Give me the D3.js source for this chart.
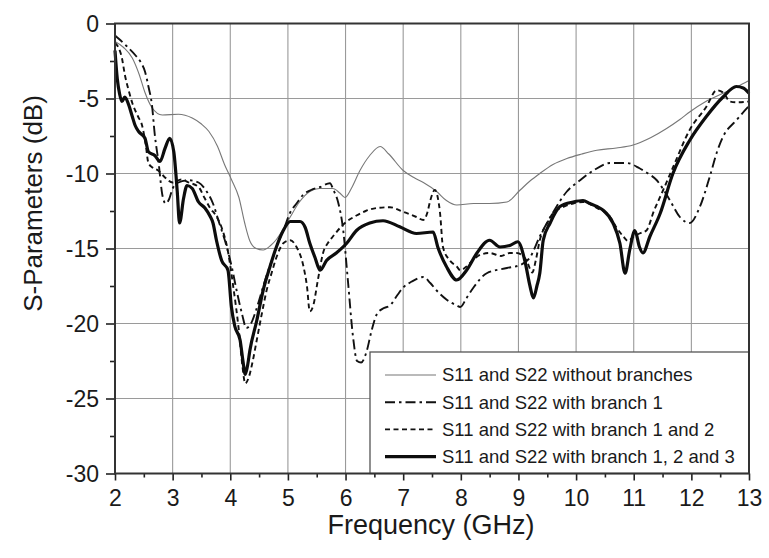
<!DOCTYPE html>
<html>
<head>
<meta charset="utf-8">
<script src="https://cdn.jsdelivr.net/npm/d3@7"></script>
<style>
  body { margin: 0; background: #fff; }
  text { font-family: "Liberation Sans", Arial, sans-serif; fill: #1a1a1a; }
</style>
</head>
<body>
<div id="chart"></div>
<script>
// Data: [frequency GHz, dB]
const xTicks = [2, 3, 4, 5, 6, 7, 8, 9, 10, 11, 12, 13];
const yTicks = [0, -5, -10, -15, -20, -25, -30];

const noBranch = [[2,-1.2],[2.15,-1.6],[2.3,-2.3],[2.42,-3.4],[2.52,-4.6],[2.64,-5.6],[2.82,-6.1],[3.1,-6.05],[3.34,-6.3],[3.5,-6.7],[3.63,-7.2],[3.78,-8.2],[3.9,-9.4],[4.02,-10.4],[4.15,-11.6],[4.25,-13.3],[4.34,-14.5],[4.45,-15],[4.57,-15.1],[4.7,-14.8],[4.8,-14.4],[4.92,-13.7],[5.04,-12.9],[5.2,-11.9],[5.38,-11.2],[5.55,-11.0],[5.78,-11.0],[5.9,-11.3],[5.99,-11.6],[6.1,-11.0],[6.25,-9.8],[6.42,-8.8],[6.6,-8.2],[6.75,-8.7],[7.0,-9.8],[7.2,-10.3],[7.35,-10.6],[7.58,-11.2],[7.75,-11.8],[7.93,-12.1],[8.22,-12.0],[8.5,-12.0],[8.8,-11.9],[9.03,-11.1],[9.2,-10.5],[9.37,-10.0],[9.6,-9.4],[9.84,-9.0],[10.1,-8.7],[10.36,-8.45],[10.7,-8.3],[10.99,-8.1],[11.3,-7.6],[11.57,-7.0],[11.8,-6.4],[11.97,-5.9],[12.25,-5.2],[12.55,-4.65],[12.8,-4.2],[13,-3.8]];

const branch1 = [[2,-0.8],[2.06,-1.0],[2.2,-1.5],[2.35,-2.1],[2.45,-2.6],[2.52,-3.2],[2.58,-4.2],[2.64,-5.4],[2.69,-7.4],[2.76,-9.4],[2.82,-11.4],[2.88,-12.0],[2.94,-11.7],[3.0,-11.0],[3.1,-10.6],[3.28,-10.45],[3.45,-10.6],[3.59,-11.2],[3.7,-12.0],[3.8,-13.2],[3.94,-14.9],[4.03,-16.3],[4.11,-17.8],[4.2,-19.3],[4.28,-20.3],[4.36,-20.0],[4.44,-19.2],[4.52,-18.2],[4.63,-16.8],[4.74,-15.6],[4.83,-14.6],[4.92,-13.8],[5.04,-12.6],[5.15,-12.0],[5.27,-11.4],[5.4,-11.1],[5.56,-10.9],[5.73,-10.65],[5.79,-11.1],[5.87,-11.9],[5.96,-13.8],[6.04,-17.1],[6.13,-20.9],[6.2,-22.5],[6.27,-22.6],[6.37,-21.8],[6.45,-20.5],[6.54,-19.4],[6.65,-19.0],[6.77,-18.8],[6.9,-18.1],[7.0,-17.6],[7.15,-17.2],[7.35,-16.9],[7.47,-17.3],[7.58,-17.8],[7.75,-18.4],[7.93,-18.8],[7.99,-18.9],[8.1,-18.3],[8.22,-17.6],[8.45,-16.65],[8.8,-16.3],[9.03,-16.1],[9.2,-15.6],[9.37,-14.2],[9.6,-12.6],[9.84,-11.2],[10.07,-10.45],[10.3,-9.8],[10.59,-9.3],[10.88,-9.3],[11.1,-9.65],[11.25,-10.0],[11.4,-10.45],[11.52,-11.1],[11.63,-11.8],[11.8,-12.9],[11.97,-13.3],[12.15,-12.2],[12.32,-10.2],[12.45,-8.5],[12.55,-7.55],[12.78,-6.45],[13,-5.5]];

const branch12 = [[2,-1.3],[2.06,-1.6],[2.12,-2.3],[2.17,-3.4],[2.24,-4.5],[2.3,-5.3],[2.4,-6.2],[2.47,-6.8],[2.53,-8.0],[2.58,-9.3],[2.65,-9.6],[2.75,-9.8],[2.85,-10.2],[3.0,-10.6],[3.15,-10.4],[3.28,-10.6],[3.45,-10.9],[3.55,-11.6],[3.65,-12.3],[3.75,-12.8],[3.85,-13.6],[3.95,-15.0],[4.05,-17.5],[4.15,-20.5],[4.21,-22.8],[4.26,-24.0],[4.32,-23.6],[4.39,-22.5],[4.46,-21.1],[4.55,-19.3],[4.63,-17.8],[4.72,-16.6],[4.8,-15.6],[4.92,-14.65],[5.04,-14.45],[5.15,-14.9],[5.27,-16.2],[5.33,-17.5],[5.38,-19.2],[5.44,-18.8],[5.52,-17.1],[5.61,-15.3],[5.7,-14.6],[5.78,-14.2],[5.99,-13.3],[6.19,-12.8],[6.35,-12.5],[6.54,-12.3],[6.77,-12.25],[7.0,-12.55],[7.23,-12.9],[7.35,-13.1],[7.42,-12.6],[7.47,-11.8],[7.55,-11.1],[7.6,-11.6],[7.64,-12.65],[7.69,-14.9],[7.81,-15.8],[7.93,-16.2],[7.99,-16.45],[8.1,-16.2],[8.2,-15.8],[8.35,-15.4],[8.5,-15.3],[8.7,-15.5],[8.85,-15.3],[8.97,-15.3],[9.14,-15.8],[9.24,-16.6],[9.3,-15.8],[9.37,-14.45],[9.5,-13.3],[9.6,-12.65],[9.8,-12.2],[9.95,-12.0],[10.12,-11.9],[10.36,-12.3],[10.59,-12.9],[10.7,-13.6],[10.82,-14.2],[10.9,-14.5],[11.0,-14.2],[11.1,-14.0],[11.22,-13.8],[11.35,-12.5],[11.5,-11.2],[11.68,-9.6],[11.97,-7.1],[12.26,-5.55],[12.44,-4.45],[12.55,-4.6],[12.67,-5.2],[12.8,-5.25],[13,-5.2]];

const branch123 = [[2,-1.8],[2.04,-3.7],[2.08,-4.7],[2.12,-5.2],[2.17,-4.9],[2.24,-5.45],[2.3,-6.2],[2.35,-6.8],[2.41,-7.2],[2.52,-7.65],[2.58,-8.55],[2.69,-8.8],[2.78,-9.2],[2.87,-8.3],[2.95,-7.65],[3.02,-8.55],[3.08,-11.2],[3.12,-13.3],[3.19,-11.65],[3.25,-10.8],[3.34,-11.0],[3.45,-11.9],[3.56,-12.3],[3.65,-12.85],[3.7,-13.3],[3.76,-14.45],[3.85,-15.8],[3.96,-16.45],[4.02,-18.9],[4.08,-20.2],[4.17,-21.1],[4.22,-22.5],[4.26,-23.4],[4.3,-22.8],[4.34,-21.8],[4.46,-19.8],[4.57,-17.8],[4.69,-16.2],[4.8,-14.9],[4.92,-13.8],[5.04,-13.2],[5.21,-13.2],[5.3,-13.6],[5.38,-14.65],[5.47,-15.6],[5.56,-16.45],[5.67,-15.8],[5.84,-15.3],[6.02,-14.65],[6.19,-13.8],[6.42,-13.3],[6.65,-13.15],[6.94,-13.55],[7.23,-14.0],[7.52,-13.9],[7.6,-14.9],[7.75,-16.2],[7.93,-17.1],[8.1,-16.45],[8.28,-15.3],[8.5,-14.45],[8.68,-14.9],[8.85,-14.8],[8.99,-14.55],[9.11,-15.8],[9.2,-17.5],[9.26,-18.3],[9.32,-17.5],[9.37,-16.65],[9.43,-14.45],[9.55,-13.3],[9.72,-12.2],[9.95,-11.9],[10.12,-11.8],[10.24,-12.0],[10.36,-12.2],[10.47,-12.45],[10.64,-13.3],[10.76,-14.65],[10.85,-16.65],[10.93,-15.1],[11.02,-13.8],[11.1,-14.9],[11.16,-15.3],[11.28,-14.2],[11.46,-12.65],[11.68,-10.0],[11.97,-7.8],[12.26,-6.2],[12.55,-4.9],[12.78,-4.2],[12.9,-4.3],[13,-4.65]];

const seriesNames = [
  "S11 and S22 without branches",
  "S11 and S22 with branch 1",
  "S11 and S22 with branch 1 and 2",
  "S11 and S22 with branch 1, 2 and 3"
];

// Dimensions
const W = 769, H = 558;
const margin = { top: 23.5, left: 115, right: 20, bottom: 84.5 };
const width = W - margin.left - margin.right;
const height = H - margin.top - margin.bottom;

const styles = [
  { color: "#777", w: 1.1, dash: null },
  { color: "#111", w: 1.9, dash: "10,4,2.5,4" },
  { color: "#111", w: 1.9, dash: "5,3.5" },
  { color: "#0d0d0d", w: 3.2, dash: null }
];
const allSeries = [noBranch, branch1, branch12, branch123];

const svg = d3.select("#chart").append("svg")
  .attr("width", W).attr("height", H)
  .style("background", "#fff");

const g = svg.append("g")
  .attr("transform", "translate(" + margin.left + "," + margin.top + ")");

const x = d3.scaleLinear().domain([2, 13]).range([0, width]);
const y = d3.scaleLinear().domain([-30, 0]).range([height, 0]);

// grid
g.append("g").selectAll("line").data(xTicks.slice(1, -1)).join("line")
  .attr("x1", d => x(d)).attr("x2", d => x(d))
  .attr("y1", 0).attr("y2", height)
  .attr("stroke", "#9a9a9a").attr("stroke-width", 1.1);
g.append("g").selectAll("line").data(yTicks.slice(1, -1)).join("line")
  .attr("x1", 0).attr("x2", width)
  .attr("y1", d => y(d)).attr("y2", d => y(d))
  .attr("stroke", "#9a9a9a").attr("stroke-width", 1.1);

// curves
const line = d3.line()
  .x(d => x(d[0]))
  .y(d => y(d[1]))
  .curve(d3.curveMonotoneX);

allSeries.forEach((s, i) => {
  g.append("path")
    .datum(s)
    .attr("fill", "none")
    .attr("stroke", styles[i].color)
    .attr("stroke-width", styles[i].w)
    .attr("stroke-dasharray", styles[i].dash)
    .attr("stroke-linejoin", "round")
    .attr("d", line);
});

// legend
const lg = g.append("g");
const lx0 = 255, ly0 = 328.5;
lg.append("rect")
  .attr("x", lx0).attr("y", ly0)
  .attr("width", width - lx0).attr("height", height - ly0)
  .attr("fill", "#fff").attr("stroke", "#555").attr("stroke-width", 1.3);
seriesNames.forEach((name, i) => {
  const ry = ly0 + 23 + i * 27.2;
  lg.append("line")
    .attr("x1", lx0 + 15).attr("x2", lx0 + 66)
    .attr("y1", ry).attr("y2", ry)
    .attr("stroke", styles[i].color)
    .attr("stroke-width", styles[i].w)
    .attr("stroke-dasharray", styles[i].dash);
  lg.append("text")
    .attr("x", lx0 + 72).attr("y", ry)
    .attr("dy", "0.35em")
    .style("font-size", "18.5px")
    .text(name);
});

// axes
const fmt = d => String(d);
const xAx = g.append("g")
  .attr("transform", "translate(0," + height + ")")
  .call(d3.axisBottom(x).tickValues(xTicks).tickSize(7).tickPadding(9).tickFormat(fmt));
g.append("g")
  .attr("transform", "translate(0," + height + ")")
  .call(d3.axisBottom(x).tickValues(d3.range(2.5, 13, 1)).tickSize(4).tickFormat(""));
const yAx = g.append("g")
  .call(d3.axisLeft(y).tickValues(yTicks).tickSize(9).tickPadding(7).tickFormat(fmt));
g.append("g")
  .call(d3.axisLeft(y).tickValues(d3.range(-27.5, 0, 5)).tickSize(5).tickFormat(""));

g.selectAll(".domain").attr("stroke", "none");
g.selectAll(".tick line").attr("stroke", "#222").attr("stroke-width", 1.6);
xAx.selectAll("text").style("font-size", "23px").attr("fill", "#1a1a1a");
yAx.selectAll("text").style("font-size", "23px").attr("fill", "#1a1a1a")
  .attr("dy", "0.36em");

// frame
g.append("rect")
  .attr("x", 0).attr("y", 0)
  .attr("width", width).attr("height", height)
  .attr("fill", "none").attr("stroke", "#333").attr("stroke-width", 2);

// titles
svg.append("text")
  .attr("x", margin.left + width / 2 - 1).attr("y", 534)
  .attr("text-anchor", "middle")
  .style("font-size", "27px")
  .text("Frequency (GHz)");
svg.append("text")
  .attr("transform", "translate(42," + (margin.top + 180) + ") rotate(-90)")
  .attr("text-anchor", "middle")
  .style("font-size", "26px")
  .text("S-Parameters (dB)");
</script>
</body>
</html>
